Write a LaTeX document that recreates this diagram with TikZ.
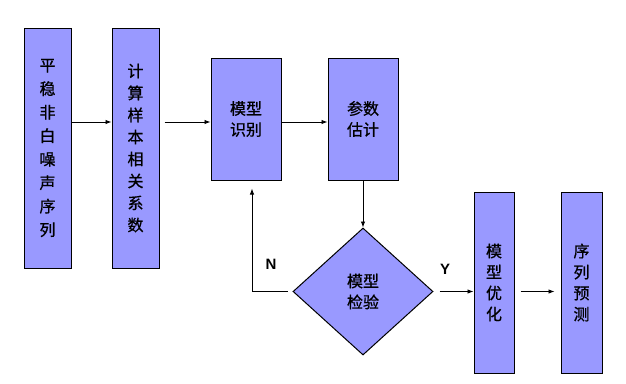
\documentclass[tikz,border=0pt]{standalone}
\usepackage{fontspec}
\newfontfamily\cjk[FakeBold=0.8]{Noto Sans CJK SC}
\newfontfamily\lab{Liberation Sans}
\usetikzlibrary{shapes.geometric,arrows.meta}
\definecolor{boxfill}{HTML}{9999FF}
\begin{document}
\begin{tikzpicture}[x=1pt,y=-1pt,
  box/.style={draw=black,line width=1pt,fill=boxfill,inner sep=0pt,align=center,
    font=\cjk\fontsize{16}{21}\selectfont},
  dia/.style={diamond,draw=black,line width=1pt,fill=boxfill,inner sep=0pt,align=center,
    font=\cjk\fontsize{16}{21}\selectfont,minimum width=140pt,minimum height=127pt},
  arr/.style={line width=0.9pt,-{Latex[length=6pt,width=4.5pt]}},
  yn/.style={font=\lab\bfseries\fontsize{15}{18}\selectfont}]
\useasboundingbox[fill=white] (0,0) rectangle (626,383);
\node[box,minimum width=47pt,minimum height=240pt,font=\cjk\fontsize{16}{23.5}\selectfont] (b1) at (47.5,148) {平\\稳\\非\\白\\噪\\声\\序\\列};
\node[box,minimum width=47pt,minimum height=240pt,font=\cjk\fontsize{16}{22}\selectfont] (b2) at (135.5,148) {计\\算\\样\\本\\相\\关\\系\\数};
\node[box,minimum width=70pt,minimum height=122pt] (b3) at (246,119) {模型\\识别};
\node[box,minimum width=70pt,minimum height=122pt] (b4) at (363,119) {参数\\估计};
\node[dia] (d) at (363,291.5) {模型\\检验};
\node[box,minimum width=40pt,minimum height=181pt] (b5) at (494,282.5) {模\\型\\优\\化};
\node[box,minimum width=41pt,minimum height=181pt] (b6) at (581.5,282.5) {序\\列\\预\\测};
\coordinate (fb) at ([xshift=6pt,yshift=-8pt]b3.south);
\draw[arr] (b1.east |- 0,122) -- (b2.west |- 0,122);
\draw[arr,shorten <=5pt] (b2.east |- 0,122) -- (b3.west |- 0,122);
\draw[arr] (b3.east |- 0,122) -- (b4.west |- 0,122);
\draw[arr] (b4.south) -- (d.north);
\draw[arr,shorten <=5pt] (d.west) -| (fb);
\draw[arr,shorten <=6pt] (d.east) -- (b5.west |- d.east);
\draw[arr,shorten <=6pt,shorten >=6pt] (b5.east |- d.east) -- (b6.west |- d.east);
\node[yn] (n) at (271,264) {N};
\node[yn] (y) at (445,269) {Y};
\end{tikzpicture}
\end{document}
